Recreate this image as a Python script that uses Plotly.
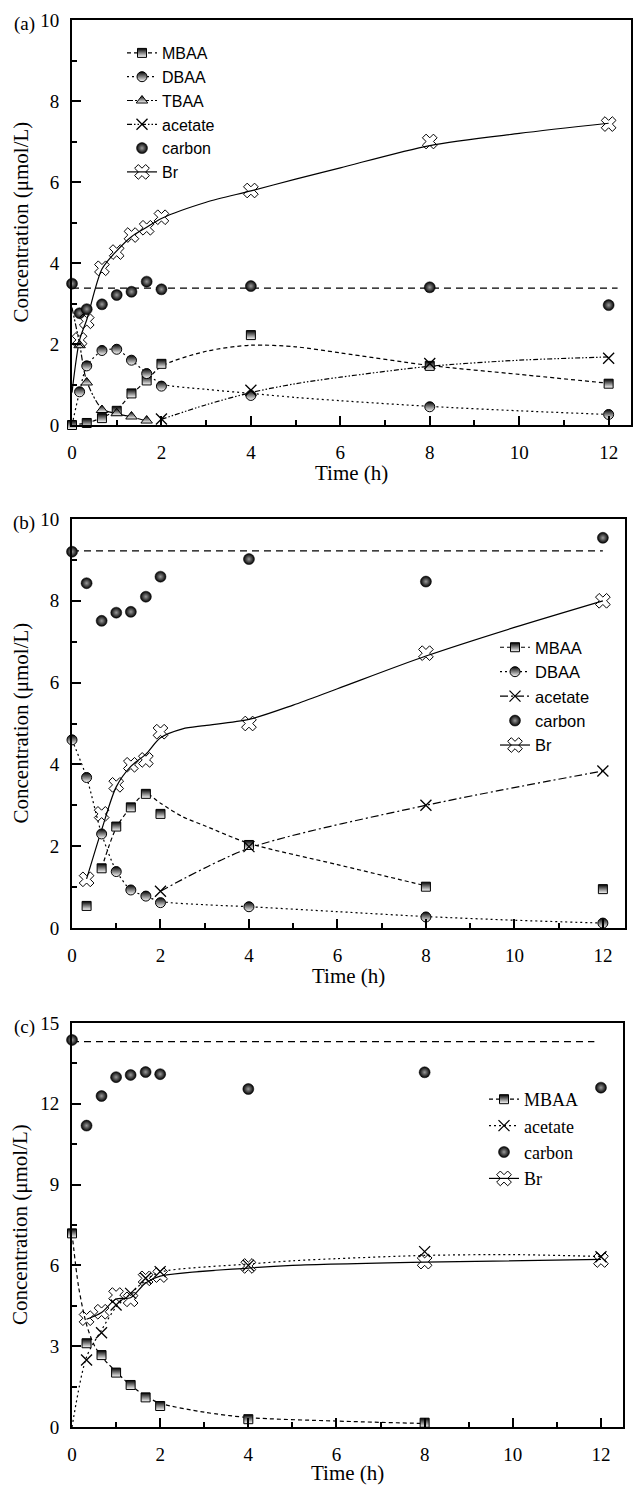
import plotly.graph_objects as go

# ---------------- Panel (a) data ----------------
a_mbaa_t = [0, 0.33, 0.67, 1, 1.33, 1.67, 2, 4, 8, 12]
a_mbaa_v = [0.0, 0.05, 0.17, 0.35, 0.78, 1.10, 1.51, 2.22, 1.46, 1.02]
a_dbaa_t = [0.17, 0.33, 0.67, 1, 1.33, 1.67, 2, 4, 8, 12]
a_dbaa_v = [0.82, 1.46, 1.84, 1.87, 1.60, 1.27, 0.96, 0.73, 0.45, 0.26]
a_tbaa_t = [0.17, 0.33, 0.67, 1, 1.33, 1.67]
a_tbaa_v = [1.97, 1.05, 0.37, 0.29, 0.21, 0.11]
a_acet_t = [2, 4, 8, 12]
a_acet_v = [0.15, 0.86, 1.52, 1.65]
a_carb_t = [0, 0.17, 0.33, 0.67, 1, 1.33, 1.67, 2, 4, 8, 12]
a_carb_v = [3.49, 2.76, 2.86, 2.98, 3.21, 3.29, 3.54, 3.35, 3.43, 3.40, 2.96]
a_br_t = [0.17, 0.33, 0.67, 1, 1.33, 1.67, 2, 4, 8, 12]
a_br_v = [2.10, 2.56, 3.87, 4.27, 4.69, 4.87, 5.13, 5.79, 7.00, 7.43]
# fitted curves (a)
a_mbaa_fit_t = [0, 0.33, 0.67, 1, 1.33, 1.67, 2, 3, 4, 5, 6, 8, 10, 12]
a_mbaa_fit_v = [0, 0.05, 0.18, 0.38, 0.76, 1.10, 1.45, 1.82, 1.97, 1.93, 1.78, 1.47, 1.25, 1.03]
a_dbaa_fit_t = [0, 0.17, 0.33, 0.67, 1, 1.33, 1.67, 2, 3, 4, 5, 6, 8, 10, 12]
a_dbaa_fit_v = [0.0, 0.82, 1.45, 1.83, 1.86, 1.60, 1.28, 1.02, 0.88, 0.78, 0.68, 0.60, 0.46, 0.35, 0.26]
a_tbaa_fit_t = [0, 0.17, 0.33, 0.67, 1, 1.33, 1.67]
a_tbaa_fit_v = [2.9, 2.0, 1.08, 0.40, 0.28, 0.20, 0.10]
a_acet_fit_t = [2, 3, 4, 5, 6, 8, 10, 12]
a_acet_fit_v = [0.14, 0.50, 0.80, 1.02, 1.18, 1.45, 1.60, 1.68]
a_br_fit_t = [0, 0.17, 0.33, 0.67, 1, 1.33, 1.67, 2, 3, 4, 5, 6, 8, 10, 12]
a_br_fit_v = [0.8, 2.1, 2.6, 3.85, 4.3, 4.65, 4.88, 5.1, 5.5, 5.78, 6.07, 6.35, 6.9, 7.2, 7.45]
a_ref_t = [0, 12.2]
a_ref_v = [3.38, 3.38]

# ---------------- Panel (b) data ----------------
b_mbaa_t = [0.33, 0.67, 1, 1.33, 1.67, 2, 4, 8, 12]
b_mbaa_v = [0.54, 1.46, 2.48, 2.95, 3.28, 2.79, 2.03, 1.01, 0.95]
b_dbaa_t = [0, 0.33, 0.67, 1, 1.33, 1.67, 2, 4, 8, 12]
b_dbaa_v = [4.60, 3.68, 2.30, 1.38, 0.93, 0.78, 0.62, 0.52, 0.27, 0.12]
b_acet_t = [2, 4, 8, 12]
b_acet_v = [0.90, 1.99, 3.00, 3.84]
b_carb_t = [0, 0.33, 0.67, 1, 1.33, 1.67, 2, 4, 8, 12]
b_carb_v = [9.20, 8.43, 7.51, 7.71, 7.73, 8.10, 8.59, 9.02, 8.47, 9.54]
b_br_t = [0.33, 0.67, 1, 1.33, 1.67, 2, 4, 8, 12]
b_br_v = [1.19, 2.79, 3.50, 3.99, 4.11, 4.80, 5.00, 6.72, 8.00]
b_mbaa_fit_t = [0.67, 1, 1.33, 1.67, 2, 2.5, 3, 4, 6, 8]
b_mbaa_fit_v = [1.46, 2.45, 2.95, 3.28, 3.05, 2.72, 2.50, 2.07, 1.55, 1.03]
b_dbaa_fit_t = [0, 0.33, 0.67, 1, 1.33, 1.67, 2, 3, 4, 6, 8, 10, 12]
b_dbaa_fit_v = [4.6, 3.68, 2.3, 1.4, 0.93, 0.78, 0.65, 0.57, 0.52, 0.40, 0.28, 0.19, 0.12]
b_acet_fit_t = [2, 4, 8, 12]
b_acet_fit_v = [0.90, 1.95, 3.00, 3.84]
b_br_fit_t = [0.33, 0.67, 1, 1.33, 1.67, 2, 2.5, 3, 4, 5, 6, 8, 10, 12]
b_br_fit_v = [1.2, 2.4, 3.45, 3.95, 4.25, 4.65, 4.87, 4.95, 5.1, 5.45, 5.85, 6.65, 7.35, 8.0]
b_ref_t = [0, 12]
b_ref_v = [9.22, 9.22]

# ---------------- Panel (c) data ----------------
c_mbaa_t = [0, 0.33, 0.67, 1, 1.33, 1.67, 2, 4, 8]
c_mbaa_v = [7.19, 3.11, 2.67, 2.02, 1.56, 1.10, 0.78, 0.29, 0.16]
c_acet_t = [0.33, 0.67, 1, 1.33, 1.67, 2, 4, 8, 12]
c_acet_v = [2.49, 3.50, 4.53, 4.96, 5.52, 5.77, 6.00, 6.51, 6.32]
c_carb_t = [0, 0.33, 0.67, 1, 1.33, 1.67, 2, 4, 8, 12]
c_carb_v = [14.37, 11.19, 12.29, 12.99, 13.07, 13.18, 13.10, 12.55, 13.17, 12.60]
c_br_t = [0.33, 0.67, 1, 1.33, 1.67, 2, 4, 8, 12]
c_br_v = [4.04, 4.28, 4.90, 4.74, 5.52, 5.64, 5.98, 6.14, 6.20]
c_mbaa_fit_t = [0, 0.15, 0.33, 0.5, 0.67, 1, 1.33, 1.67, 2, 3, 4, 6, 8]
c_mbaa_fit_v = [7.2, 5.2, 3.8, 3.05, 2.62, 2.05, 1.55, 1.15, 0.88, 0.55, 0.35, 0.22, 0.13]
c_acet_fit_t = [0, 0.33, 0.67, 1, 1.33, 1.67, 2, 4, 5, 6, 8, 10, 12]
c_acet_fit_v = [0, 2.6, 3.6, 4.45, 4.95, 5.45, 5.75, 6.05, 6.17, 6.25, 6.37, 6.40, 6.33]
c_br_fit_t = [0.33, 0.67, 1, 1.33, 1.67, 2, 4, 5, 8, 12]
c_br_fit_v = [4.0, 4.25, 4.75, 4.8, 5.35, 5.6, 5.9, 6.0, 6.12, 6.22]
c_ref_t = [0, 11.85]
c_ref_v = [14.31, 14.31]

x_ticks = [0, 2, 4, 6, 8, 10, 12]
panel_labels = ["(a)", "(b)", "(c)"]
x_title = "Time (h)"
y_title = "Concentration (μmol/L)"

W, H = 633, 1485
SERIF = "Liberation Serif"
SANS = "Liberation Sans"


def mk(kind):
    if kind == "square":
        return dict(symbol="square", size=9, color="black",
                    gradient=dict(type="vertical", color="white"),
                    line=dict(color="black", width=1))
    if kind == "circle_half":
        return dict(symbol="circle", size=10, color="black",
                    gradient=dict(type="vertical", color="white"),
                    line=dict(color="black", width=1))
    if kind == "triangle":
        return dict(symbol="triangle-up", size=10, color="black",
                    gradient=dict(type="vertical", color="white"),
                    line=dict(color="black", width=1))
    if kind == "x":
        return dict(symbol="x-thin-open", size=11, color="black",
                    line=dict(color="black", width=1.3))
    if kind == "sphere":
        return dict(symbol="circle", size=11, color="black",
                    gradient=dict(type="radial", color="#9a9a9a"),
                    line=dict(color="black", width=0.5))
    if kind == "br":
        return dict(symbol="x-open", size=13, color="black",
                    line=dict(color="black", width=1))


DASH = {
    "mbaa": "4px,3px",
    "dbaa": "2px,3px",
    "tbaa": "6px,2px,2px,2px,2px,2px",
    "acet_a": "5px,2px,1.5px,2px,1.5px,2px",
    "acet_b": "8px,3px,2px,3px",
    "acet_c": "2px,3px",
    "br": "solid",
    "ref": "7px,5px",
}

fig = go.Figure()


def add_fit(t, v, dash, xa, ya):
    fig.add_trace(go.Scatter(x=t, y=v, mode="lines", xaxis=xa, yaxis=ya,
                             line=dict(color="black", width=1.2, dash=dash, shape="spline", smoothing=0.8),
                             showlegend=False, hoverinfo="skip", cliponaxis=False))


def add_pts(t, v, kind, xa, ya):
    fig.add_trace(go.Scatter(x=t, y=v, mode="markers", xaxis=xa, yaxis=ya,
                             marker=mk(kind), showlegend=False, cliponaxis=False))


def add_leg(name, kind, dash, legend, xa, ya):
    mode = "markers" if dash is None else "lines+markers"
    fig.add_trace(go.Scatter(x=[None], y=[None], mode=mode, name=name, xaxis=xa, yaxis=ya,
                             marker=mk(kind),
                             line=dict(color="black", width=1.2, dash=dash if dash else "solid"),
                             legend=legend, showlegend=True))


# ---- panel (a)
xa, ya = "x", "y"
add_fit(a_ref_t, a_ref_v, DASH["ref"], xa, ya)
add_fit(a_mbaa_fit_t, a_mbaa_fit_v, DASH["mbaa"], xa, ya)
add_fit(a_dbaa_fit_t, a_dbaa_fit_v, DASH["dbaa"], xa, ya)
add_fit(a_tbaa_fit_t, a_tbaa_fit_v, DASH["tbaa"], xa, ya)
add_fit(a_acet_fit_t, a_acet_fit_v, DASH["acet_a"], xa, ya)
add_fit(a_br_fit_t, a_br_fit_v, DASH["br"], xa, ya)
add_pts(a_mbaa_t, a_mbaa_v, "square", xa, ya)
add_pts(a_dbaa_t, a_dbaa_v, "circle_half", xa, ya)
add_pts(a_tbaa_t, a_tbaa_v, "triangle", xa, ya)
add_pts(a_acet_t, a_acet_v, "x", xa, ya)
add_pts(a_carb_t, a_carb_v, "sphere", xa, ya)
add_pts(a_br_t, a_br_v, "br", xa, ya)
add_leg("MBAA", "square", DASH["mbaa"], "legend", xa, ya)
add_leg("DBAA", "circle_half", DASH["dbaa"], "legend", xa, ya)
add_leg("TBAA", "triangle", DASH["tbaa"], "legend", xa, ya)
add_leg("acetate", "x", DASH["acet_a"], "legend", xa, ya)
add_leg("carbon", "sphere", None, "legend", xa, ya)
add_leg("Br", "br", DASH["br"], "legend", xa, ya)

# ---- panel (b)
xa, ya = "x2", "y2"
add_fit(b_ref_t, b_ref_v, DASH["ref"], xa, ya)
add_fit(b_mbaa_fit_t, b_mbaa_fit_v, DASH["mbaa"], xa, ya)
add_fit(b_dbaa_fit_t, b_dbaa_fit_v, DASH["dbaa"], xa, ya)
add_fit(b_acet_fit_t, b_acet_fit_v, DASH["acet_b"], xa, ya)
add_fit(b_br_fit_t, b_br_fit_v, DASH["br"], xa, ya)
add_pts(b_mbaa_t, b_mbaa_v, "square", xa, ya)
add_pts(b_dbaa_t, b_dbaa_v, "circle_half", xa, ya)
add_pts(b_acet_t, b_acet_v, "x", xa, ya)
add_pts(b_carb_t, b_carb_v, "sphere", xa, ya)
add_pts(b_br_t, b_br_v, "br", xa, ya)
add_leg("MBAA", "square", DASH["mbaa"], "legend2", xa, ya)
add_leg("DBAA", "circle_half", DASH["dbaa"], "legend2", xa, ya)
add_leg("acetate", "x", DASH["acet_b"], "legend2", xa, ya)
add_leg("carbon", "sphere", None, "legend2", xa, ya)
add_leg("Br", "br", DASH["br"], "legend2", xa, ya)

# ---- panel (c)
xa, ya = "x3", "y3"
add_fit(c_ref_t, c_ref_v, DASH["ref"], xa, ya)
add_fit(c_mbaa_fit_t, c_mbaa_fit_v, DASH["mbaa"], xa, ya)
add_fit(c_acet_fit_t, c_acet_fit_v, DASH["acet_c"], xa, ya)
add_fit(c_br_fit_t, c_br_fit_v, DASH["br"], xa, ya)
add_pts(c_mbaa_t, c_mbaa_v, "square", xa, ya)
add_pts(c_acet_t, c_acet_v, "x", xa, ya)
add_pts(c_carb_t, c_carb_v, "sphere", xa, ya)
add_pts(c_br_t, c_br_v, "br", xa, ya)
add_leg("MBAA", "square", DASH["mbaa"], "legend3", xa, ya)
add_leg("acetate", "x", DASH["acet_c"], "legend3", xa, ya)
add_leg("carbon", "sphere", None, "legend3", xa, ya)
add_leg("Br", "br", DASH["br"], "legend3", xa, ya)


def py(px):
    return 1 - px / H


def xaxis(left, right, anchor):
    return dict(domain=[left / W, right / W], range=[0, 12.5], tickvals=x_ticks, anchor=anchor,
                automargin=False,
                ticks="inside", ticklen=9, tickwidth=1.5, tickcolor="black",
                minor=dict(ticks="inside", ticklen=5, tickwidth=1.5, dtick=1, tick0=0, tickcolor="black"),
                showline=True, linewidth=2, linecolor="black", mirror=True,
                showgrid=False, zeroline=False, ticklabelstandoff=9,
                tickfont=dict(family=SERIF, size=19, color="black"))


def yaxis(top, bottom, rng, dtick, minor, anchor):
    return dict(domain=[py(bottom), py(top)], range=rng, dtick=dtick, tick0=0, anchor=anchor,
                automargin=False,
                ticks="inside", ticklen=9, tickwidth=1.5, tickcolor="black",
                minor=dict(ticks="inside", ticklen=5, tickwidth=1.5, dtick=minor, tick0=0, tickcolor="black"),
                showline=True, linewidth=2, linecolor="black", mirror=True,
                showgrid=False, zeroline=False, ticklabelstandoff=7,
                tickfont=dict(family=SERIF, size=19, color="black"))


panels = [  # (left, right, top, bottom) in px
    (72, 631, 20, 425),
    (72, 625, 519, 928),
    (72, 623, 1023, 1427),
]

lay = dict(
    width=W, height=H, margin=dict(l=0, r=0, t=0, b=0, autoexpand=False),
    paper_bgcolor="white", plot_bgcolor="white",
    xaxis=xaxis(72, 631, "y"), yaxis=yaxis(20, 425, [0, 10], 2, 1, "x"),
    xaxis2=xaxis(72, 625, "y2"), yaxis2=yaxis(519, 928, [0, 10], 2, 1, "x2"),
    xaxis3=xaxis(72, 623, "y3"), yaxis3=yaxis(1023, 1427, [0, 15], 3, 1.5, "x3"),
    legend=dict(x=122 / W, y=py(36), xanchor="left", yanchor="top", bgcolor="rgba(0,0,0,0)",
                font=dict(family=SANS, size=16, color="black"), tracegroupgap=0),
    legend2=dict(x=495 / W, y=py(630), xanchor="left", yanchor="top", bgcolor="rgba(0,0,0,0)",
                 font=dict(family=SANS, size=16.5, color="black")),
    legend3=dict(x=484 / W, y=py(1081), xanchor="left", yanchor="top", bgcolor="rgba(0,0,0,0)",
                 font=dict(family=SERIF, size=18, color="black")),
    showlegend=True,
)
fig.update_layout(**lay)

for i, (lab, (l, r, t, b)) in enumerate(zip(panel_labels, panels)):
    fig.add_annotation(text=lab, xref="paper", yref="paper", x=24 / W, y=py(t + 4),
                       showarrow=False, xanchor="center", yanchor="middle",
                       font=dict(family=SERIF, size=19, color="black"))
    fig.add_annotation(text=x_title, xref="paper", yref="paper", x=(l + r) / 2 / W,
                       y=py(b + (46 if i == 2 else 48)),
                       showarrow=False, xanchor="center", yanchor="middle",
                       font=dict(family=SERIF, size=21, color="black"))
    fig.add_annotation(text=y_title, xref="paper", yref="paper", x=20 / W, y=py((t + b) / 2),
                       showarrow=False, xanchor="center", yanchor="middle", textangle=-90,
                       font=dict(family=SERIF, size=21, color="black"))

fig.write_html("out.html", config={"displayModeBar": False},
               post_script="document.body.style.margin='0px';document.body.style.overflow='hidden';")
